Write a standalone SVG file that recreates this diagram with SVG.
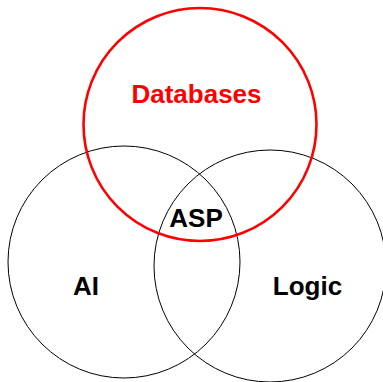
<svg xmlns="http://www.w3.org/2000/svg" width="383" height="382" viewBox="0 0 383 382">
<style>
.c{fill:none;stroke:#000;stroke-width:1}
.t{font-family:"Liberation Sans",Arial,sans-serif;font-weight:bold;font-size:26px;text-anchor:middle;fill:#000}
</style>
<rect width="383" height="382" fill="#fff"/>
<g id="ai"><circle class="c" cx="124" cy="262" r="116"/><text class="t" x="86" y="295">AI</text></g>
<g id="logic"><circle class="c" cx="270" cy="266" r="116"/><text class="t" x="307.5" y="295">Logic</text></g>
<g id="databases"><circle cx="200" cy="124.5" r="116.5" fill="none" stroke="#f00" stroke-width="2.6"/><text class="t" x="196.5" y="103" fill="#f00" style="fill:#f00">Databases</text></g>
<g id="asp"><text class="t" x="196" y="227">ASP</text></g>
<g id="connectors"/>
</svg>
